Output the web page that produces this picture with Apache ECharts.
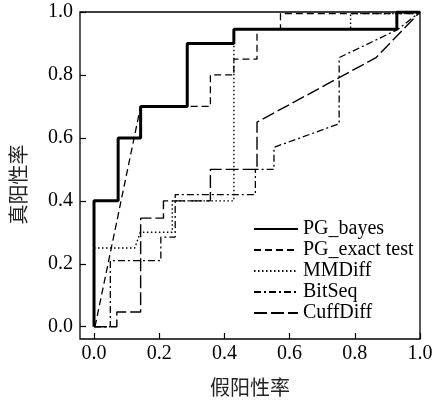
<!DOCTYPE html>
<html>
<head>
<meta charset="utf-8">
<script src="https://cdn.jsdelivr.net/npm/echarts@6/dist/echarts.min.js"></script>
<style>html,body{margin:0;padding:0;background:#fff;}#c{width:445px;height:405px;}</style>
</head>
<body>
<div id="c"></div>
<script>
var seriesNames = ['PG_bayes', 'PG_exact test', 'MMDiff', 'BitSeq', 'CuffDiff'];
var tickValues = [0, 0.2, 0.4, 0.6, 0.8, 1.0];
var xAxisName = '假阳性率';
var yAxisName = '真阳性率';

var pgBayes = [[0,0],[0,0.4],[0.074,0.4],[0.074,0.6],[0.143,0.6],[0.143,0.7],[0.286,0.7],[0.286,0.9],[0.429,0.9],[0.429,0.945],[0.929,0.945],[0.929,1],[1,1]];
var pgExact = [[0.003,0],[0.143,0.7],[0.357,0.7],[0.357,0.8],[0.429,0.8],[0.429,0.85],[0.5,0.85],[0.5,0.945],[0.572,0.945],[0.572,0.995],[1,0.995]];
var mmDiff = [[0,0.25],[0.125,0.25],[0.142,0.3],[0.24,0.3],[0.24,0.4],[0.429,0.4],[0.429,0.945],[0.787,0.945],[0.787,0.995],[1,0.995]];
var bitSeq = [[0,0],[0.05,0],[0.05,0.21],[0.205,0.21],[0.205,0.285],[0.249,0.285],[0.249,0.42],[0.495,0.42],[0.495,0.5],[0.552,0.5],[0.552,0.57],[0.752,0.645],[0.752,0.855],[0.931,0.944],[1,1]];
var cuffDiff = [[0,0],[0.07,0],[0.07,0.047],[0.143,0.047],[0.143,0.345],[0.213,0.345],[0.213,0.4],[0.357,0.4],[0.357,0.5],[0.5,0.5],[0.5,0.65],[0.865,0.855],[1,1]];

var seriesData = [pgBayes, pgExact, mmDiff, bitSeq, cuffDiff];
var styles = [
  {width: 3, type: 'solid'},
  {width: 1.3, type: [7, 4]},
  {width: 1.4, type: [1.5, 2.5]},
  {width: 1.3, type: [7, 3, 2, 3]},
  {width: 1.4, type: [13, 4]}
];

var chart = echarts.init(document.getElementById('c'), null, {renderer: 'canvas'});
var serif = '"Liberation Serif", "Times New Roman", serif';
var cjk = '"Noto Sans CJK SC", sans-serif';

chart.setOption({
  animation: false,
  backgroundColor: '#fff',
  grid: {left: 80, right: 25, top: 12, bottom: 66, show: true, borderColor: '#000', borderWidth: 1.3, backgroundColor: 'transparent'},
  legend: {
    orient: 'vertical',
    left: 253, top: 219,
    padding: 0,
    itemWidth: 44, itemHeight: 14, itemGap: 1,
    data: seriesNames,
    itemStyle: {color: 'transparent', borderWidth: 0, opacity: 0},
    textStyle: {fontFamily: serif, fontSize: 20, color: '#000', lineHeight: 20}
  },
  xAxis: {
    type: 'value', min: -0.043, max: 1.0,
    name: xAxisName, nameLocation: 'middle', nameGap: 38,
    nameTextStyle: {fontFamily: cjk, fontSize: 20, color: '#222'},
    axisLine: {show: false, onZero: false},
    splitLine: {show: false},
    axisTick: {show: true, inside: true, length: 6, lineStyle: {color: '#000', width: 1.2}, customValues: tickValues},
    axisLabel: {customValues: tickValues, margin: 5, fontFamily: serif, fontSize: 20, color: '#000', formatter: function (v) { return v.toFixed(1); }}
  },
  yAxis: {
    type: 'value', min: -0.039, max: 1.0,
    name: yAxisName, nameLocation: 'middle', nameGap: 52, nameRotate: 90,
    nameTextStyle: {fontFamily: cjk, fontSize: 20, color: '#222', padding: [0, 18, 0, 0]},
    axisLine: {show: false, onZero: false},
    splitLine: {show: false},
    axisTick: {show: true, inside: true, length: 6, lineStyle: {color: '#000', width: 1.2}, customValues: tickValues},
    axisLabel: {customValues: tickValues, margin: 7, fontFamily: serif, fontSize: 20, color: '#000', formatter: function (v) { return v.toFixed(1); }}
  },
  series: seriesNames.map(function (n, i) {
    return {
      name: n, type: 'line', data: seriesData[i], symbol: 'none', smooth: false,
      color: '#000',
      lineStyle: {color: '#000', width: styles[i].width, type: styles[i].type}
    };
  })
});
</script>
</body>
</html>
